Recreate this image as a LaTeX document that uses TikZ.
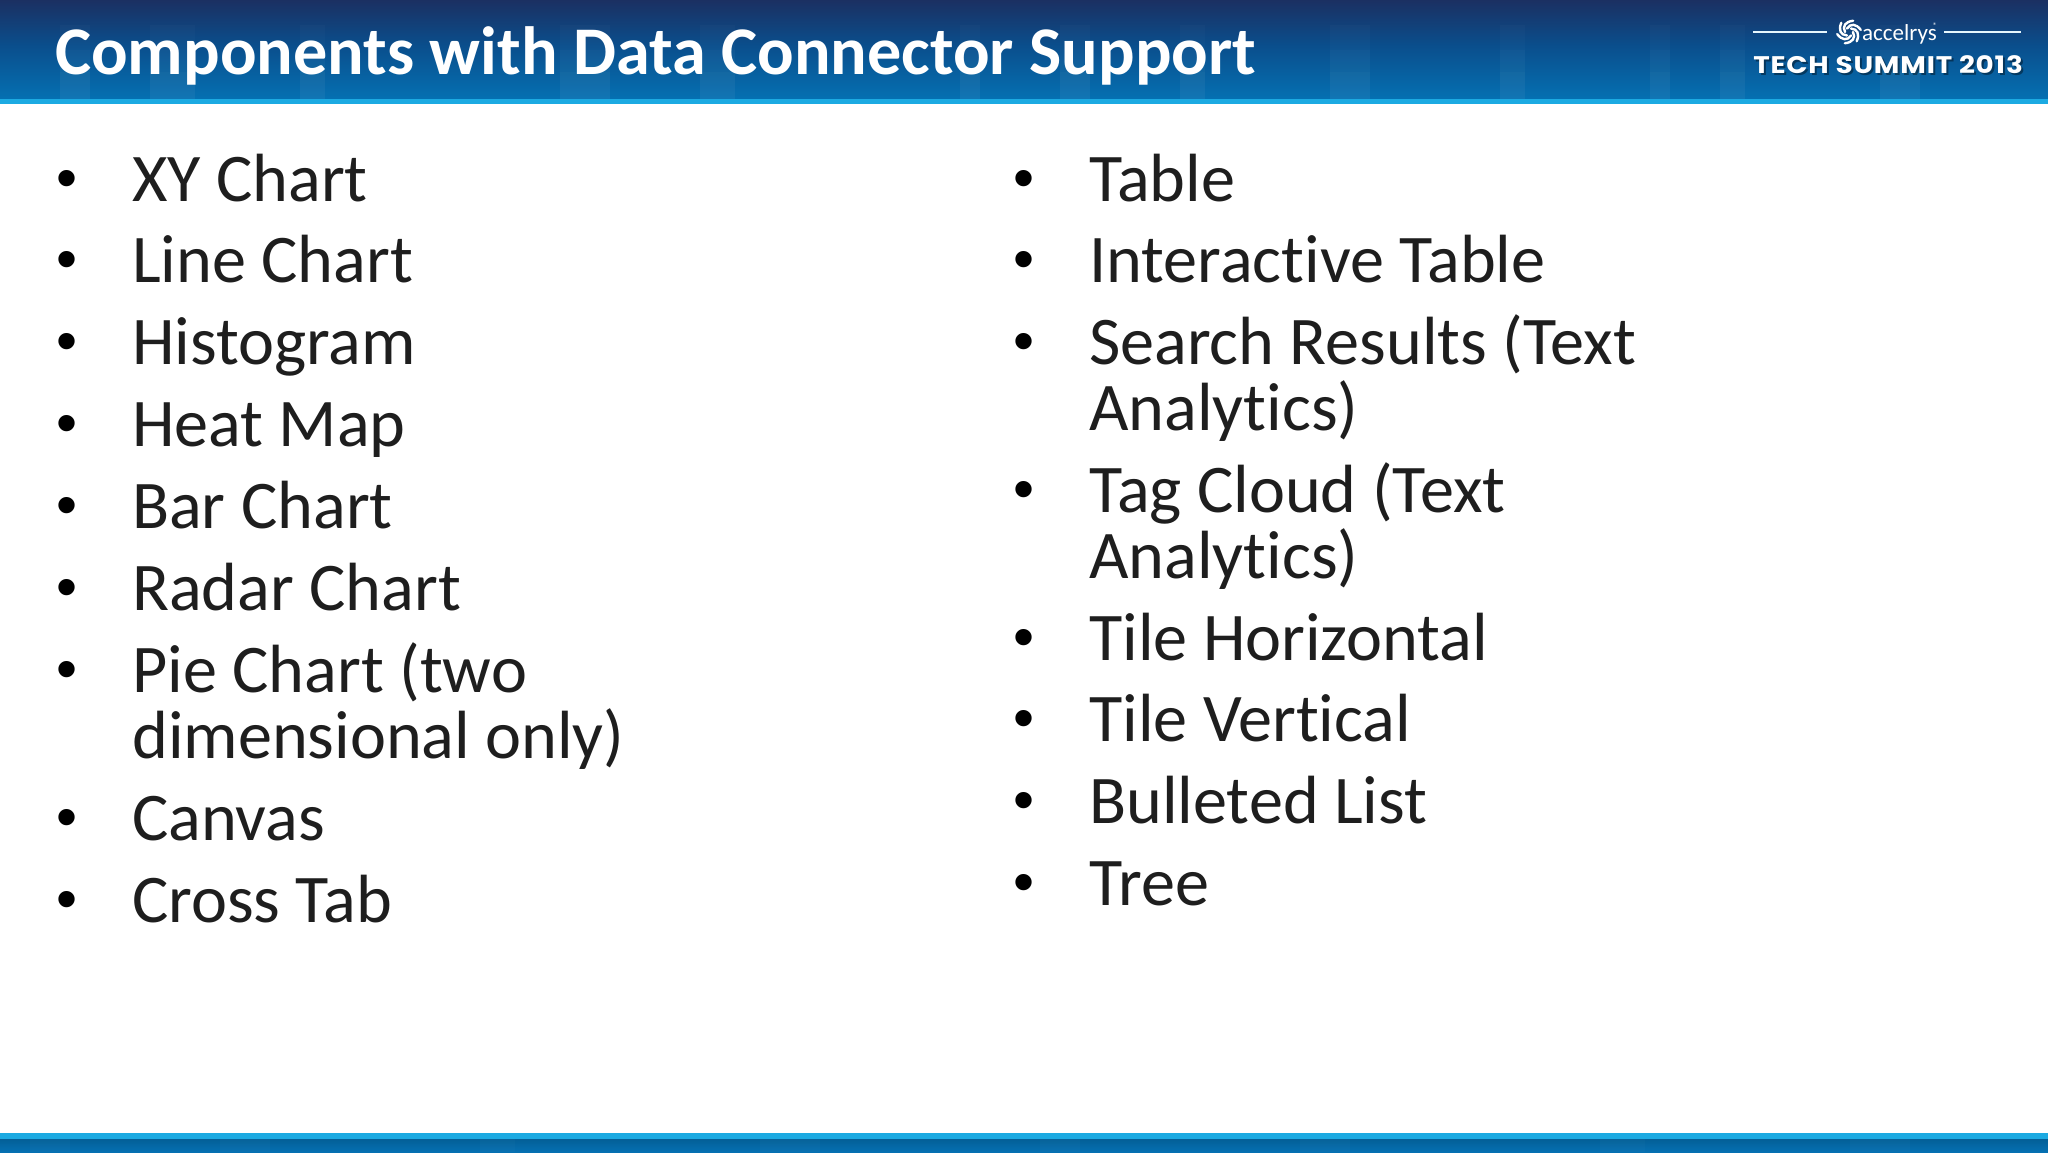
\documentclass[tikz,border=0pt]{standalone}
\usepackage{fontspec}
\setmainfont{Carlito}[Ligatures=NoCommon]
\newfontfamily\logofont{Poppins}
\newfontfamily\bulletfont{Liberation Sans}
\definecolor{bandtop}{RGB}{27,48,98}
\definecolor{bandmid}{RGB}{10,78,140}
\definecolor{bandlow}{RGB}{5,112,178}
\definecolor{stripc}{RGB}{28,170,226}
\definecolor{inkc}{RGB}{30,30,30}
\tikzset{
  itemtext/.style={anchor=base west,inner sep=0pt,align=left,text=inkc,font=\fontsize{68.2}{65.6}\selectfont},
  bulletmark/.style={anchor=base,inner sep=0pt,text=black,font=\bulletfont\fontsize{60}{60}\selectfont},
  titletext/.style={anchor=base west,inner sep=0pt,text=white,font=\bfseries\fontsize{68.2}{68}\selectfont},
  logoline/.style={draw=white!90!cyan,line width=1.6pt},
  logolabel/.style={anchor=base west,inner sep=0pt,xscale=1.16,font=\logofont\bfseries\fontsize{24}{24}\selectfont},
  faintbar/.style={fill=white,fill opacity=0.018,draw=none},
}
\begin{document}
\begin{tikzpicture}[x=1pt,y=-1pt]
\useasboundingbox (0,0) rectangle (2048,1152);
\fill[white] (0,0) rectangle (2048,1152);
% top band
\fill[top color=bandtop,bottom color=bandmid] (0,0) rectangle (2048,45);
\fill[top color=bandmid,bottom color=bandlow] (0,45) rectangle (2048,99);
\foreach \x/\w in {60/30,150/45,300/25,560/50,700/35,960/20,1060/30,1180/25,1330/40,1500/25,1650/20,1720/25,1880/40}{
  \fill[faintbar] (\x,25) rectangle ++(\w,74);
  \fill[faintbar] (\x,50) rectangle ++(\w,49);
  \fill[faintbar] (\x,72) rectangle ++(\w,27);
}
\fill[stripc] (0,99) rectangle (2048,104);
% bottom band
\fill[stripc] (0,1133) rectangle (2048,1139);
\fill[top color=bandlow!85!black,bottom color=bandlow] (0,1139) rectangle (2048,1152);
\foreach \x/\w in {30/40,220/50,480/35,760/60,1040/40,1300/50,1600/45,1850/60}{
  \fill[faintbar] (\x,1139) rectangle ++(\w,13);
}
% title
\node[titletext] (title) at (55,74) {Components with Data Connector Support};
% logo
\coordinate (ruleLa) at (1753,32);
\coordinate (ruleLb) at (1827,32);
\coordinate (ruleRa) at (1944,32);
\coordinate (ruleRb) at (2021,32);
\draw[logoline] (ruleLa) -- (ruleLb);
\draw[logoline] (ruleRa) -- (ruleRb);
\foreach \a in {0,60,...,300}{
  \draw[white,line width=2.4pt,line cap=round,shift={(1849,32)}]
    (\a:4) .. controls (\a+40:9) and (\a+70:11) .. (\a+110:12);
}
\node[anchor=base west,inner sep=0pt,text=white,font=\fontsize{23}{23}\selectfont] (logoname) at (1862,40) {accelrys};
\node[anchor=base west,inner sep=0pt,text=white,font=\fontsize{8}{8}\selectfont] (logomark) at (1933,28) {®};
\node[logolabel,text=black,opacity=0.4] (logoshadow) at (1755,75) {\addfontfeature{LetterSpace=3}TECH SUMMIT 2013};
\node[logolabel,text=white] (logotext) at (1753,73) {\addfontfeature{LetterSpace=3}TECH SUMMIT 2013};
% left column
\foreach \n/\y/\t in {a/201/XY Chart,b/282/Line Chart,c/364/Histogram,d/446/Heat Map,e/528/Bar Chart,f/610/Radar Chart,h/840/Canvas,i/922/Cross Tab}{
  \node[bulletmark] (lb\n) at (67,\y-3) {•};
  \node[itemtext] (lt\n) at (132,\y) {\t};
}
\node[bulletmark] (lbg) at (67,689) {•};
\node[itemtext] (ltg) at (132,758) {Pie Chart (two\\dimensional only)};
% right column
\foreach \n/\y/\t in {a/201/Table,b/282/Interactive Table,e/660/Tile Horizontal,f/741/Tile Vertical,g/823/Bulleted List,h/905/Tree}{
  \node[bulletmark] (rb\n) at (1024,\y-3) {•};
  \node[itemtext] (rt\n) at (1089,\y) {\t};
}
\node[bulletmark] (rbc) at (1024,361) {•};
\node[itemtext] (rtc) at (1089,430) {Search Results (Text\\Analytics)};
\node[bulletmark] (rbd) at (1024,509) {•};
\node[itemtext] (rtd) at (1089,578) {Tag Cloud (Text\\Analytics)};
\end{tikzpicture}
\end{document}
